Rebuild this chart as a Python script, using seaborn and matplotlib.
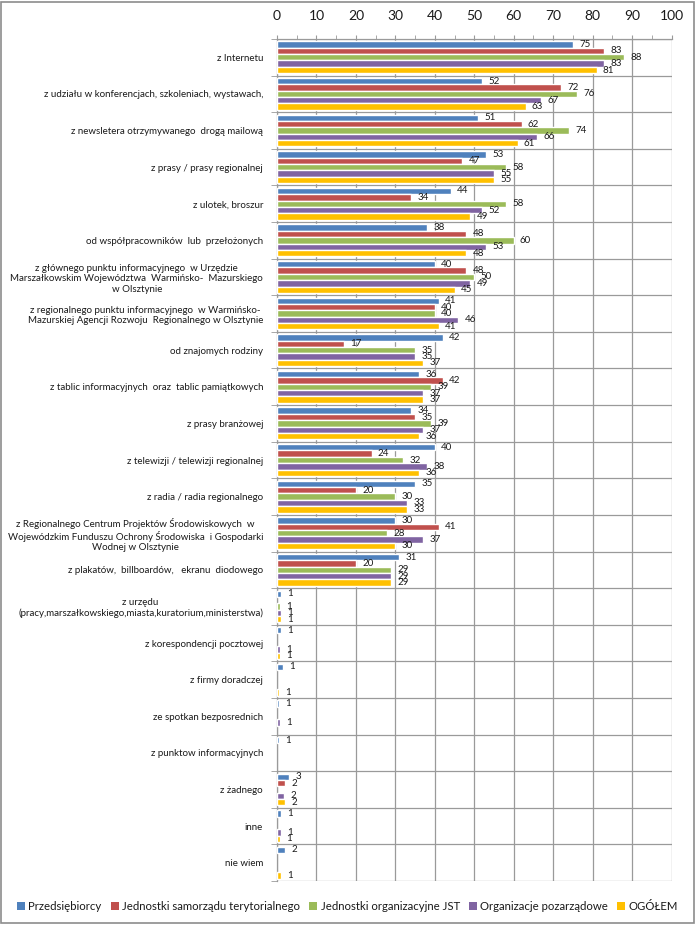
import numpy as np
import pandas as pd
import matplotlib
matplotlib.use("Agg")
import matplotlib.pyplot as plt
import seaborn as sns
from matplotlib.patches import Rectangle, Patch
from matplotlib.ticker import MultipleLocator

categories = [
    "z Internetu",
    "z udziału w konferencjach, szkoleniach, wystawach,",
    "z newsletera otrzymywanego  drogą mailową",
    "z prasy / prasy regionalnej",
    "z ulotek, broszur",
    "od współpracowników  lub  przełożonych",
    "z głównego punktu informacyjnego  w Urzędzie\nMarszałkowskim Województwa  Warmińsko-  Mazurskiego\nw Olsztynie",
    "z regionalnego punktu informacyjnego  w Warmińsko-\nMazurskiej Agencji Rozwoju  Regionalnego w Olsztynie",
    "od znajomych rodziny",
    "z tablic informacyjnych  oraz  tablic pamiątkowych",
    "z prasy branżowej",
    "z telewizji / telewizji regionalnej",
    "z radia / radia regionalnego",
    "z Regionalnego Centrum Projektów Środowiskowych  w\nWojewódzkim Funduszu Ochrony Środowiska  i Gospodarki\nWodnej w Olsztynie",
    "z plakatów,  billboardów,   ekranu  diodowego",
    "z urzędu\n(pracy,marszałkowskiego,miasta,kuratorium,ministerstwa)",
    "z korespondencji pocztowej",
    "z firmy doradczej",
    "ze spotkan bezposrednich",
    "z punktow informacyjnych",
    "z żadnego",
    "inne",
    "nie wiem",
]

series_names = [
    "Przedsiębiorcy",
    "Jednostki samorządu terytorialnego",
    "Jednostki organizacyjne JST",
    "Organizacje pozarządowe",
    "OGÓŁEM",
]

przedsiebiorcy = [75, 52, 51, 53, 44, 38, 40, 41, 42, 36, 34, 40, 35, 30, 31,
                  1.1, 1.1, 1.4, 0.6, 0.6, 3.1, 1.1, 2.1]
jst = [83, 72, 62, 47, 34, 48, 48, 40, 17, 42, 35, 24, 20, 41, 20,
       None, None, None, None, None, 2.1, None, None]
jednostki_org = [88, 76, 74, 58, 58, 60, 50, 40, 35, 39, 39, 32, 30, 28, 29,
                 0.8, None, None, None, None, None, None, None]
organizacje = [83, 67, 66, 55, 52, 53, 49, 46, 35, 37, 37, 38, 33, 37, 29,
               1.1, 0.8, None, 0.8, None, 1.9, 1.1, None]
ogolem = [81, 63, 61, 55, 49, 48, 45, 41, 37, 37, 36, 36, 33, 30, 29,
          1.1, 0.8, 0.6, None, None, 2.1, 0.8, 1.1]

colors = ["#4F81BD", "#C0504D", "#9BBB59", "#8064A2", "#FFC000"]

all_series = [przedsiebiorcy, jst, jednostki_org, organizacje, ogolem]
rows = []
for name, vals in zip(series_names, all_series):
    for cat, v in zip(categories, vals):
        rows.append({"kategoria": cat, "grupa": name, "wartosc": v})
df = pd.DataFrame(rows).dropna(subset=["wartosc"])

sns.set_style("white")
plt.rcParams["font.family"] = ["Lato", "DejaVu Sans"]
text_color = "#1a1a1a"
grid_color = "#9a9a9a"

fig = plt.figure(figsize=(6.95, 9.25), dpi=100)
ax = fig.add_axes([277 / 695, 1 - 881 / 925, (671.5 - 277) / 695, (881 - 39) / 925])

sns.barplot(data=df, y="kategoria", x="wartosc", hue="grupa",
            order=categories, hue_order=series_names, palette=colors,
            orient="h", width=0.87, errorbar=None, saturation=1,
            ax=ax, legend=False, zorder=3)

for cont in ax.containers:
    ax.bar_label(cont, fmt="%.0f", padding=4.5, fontsize=7, color=text_color)

ax.set_xlim(0, 100)
ax.set_ylim(len(categories) - 0.5, -0.5)
ax.set_xlabel("")
ax.set_ylabel("")

# x axis on top
ax.xaxis.tick_top()
ax.xaxis.set_major_locator(MultipleLocator(10))
ax.xaxis.set_minor_locator(MultipleLocator(5))
ax.tick_params(axis="x", which="major", top=True, bottom=False, length=3,
               color=grid_color, labelsize=10, labelcolor=text_color, pad=9)
ax.tick_params(axis="x", which="minor", top=True, bottom=False, length=3,
               color=grid_color)
ax.xaxis.grid(True, which="major", color=grid_color, lw=0.9, zorder=0)

# category boundaries
ax.set_yticks(np.arange(len(categories)))
ax.set_yticklabels(categories)
ax.set_yticks(np.arange(len(categories) + 1) - 0.5, minor=True)
ax.tick_params(axis="y", which="major", left=False, length=0, pad=10,
               labelsize=7, labelcolor=text_color)
ax.tick_params(axis="y", which="minor", left=True, length=4, color=grid_color)
ax.yaxis.grid(True, which="minor", color=grid_color, lw=0.9, zorder=0)
ax.yaxis.grid(False, which="major")
for t in ax.get_yticklabels():
    t.set_multialignment("center")
ax.set_axisbelow(True)

for side in ["bottom", "right"]:
    ax.spines[side].set_visible(False)
for side in ["top", "left"]:
    ax.spines[side].set_color(grid_color)
    ax.spines[side].set_linewidth(0.9)

handles = [Patch(facecolor=c, edgecolor="none") for c in colors]
fig.legend(handles, series_names, loc="center", bbox_to_anchor=(0.5, 1 - 906 / 925),
           ncol=5, frameon=False, fontsize=8.2, handlelength=0.7, handleheight=0.7,
           handletextpad=0.3, columnspacing=0.8, labelcolor=text_color)

fig.patches.append(Rectangle((0.002, 0.002), 0.996, 0.996, transform=fig.transFigure,
                             fill=False, edgecolor="#8c8c8c", lw=1.2))

fig.savefig("out.png", dpi=100)
